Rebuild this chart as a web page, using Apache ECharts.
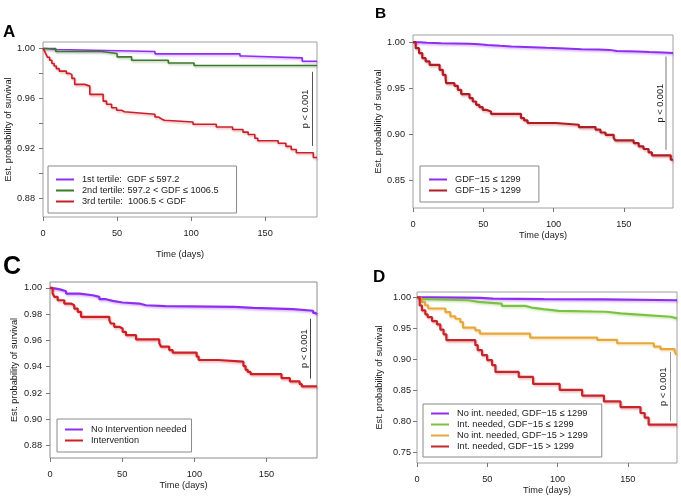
<!DOCTYPE html>
<html>
<head>
<meta charset="utf-8">
<script src="https://cdn.jsdelivr.net/npm/echarts@6/dist/echarts.min.js"></script>
<style>
  html, body { margin: 0; padding: 0; background: #fff; }
  #main { width: 681px; height: 499px; }
</style>
</head>
<body>
<div id="main"></div>
<script>
// Kaplan-Meier curves: [day, est. survival]
const aTertile1 = [[0, 1], [2, 0.9992], [9, 0.9976], [75.6, 0.9957], [133, 0.994], [136, 0.9925], [175, 0.9898], [185, 0.9898]]
const aTertile2 = [[0, 1], [8.6, 0.9976], [39.5, 0.996], [50, 0.9933], [59.8, 0.9906], [84.6, 0.9884], [102, 0.9864], [185, 0.9864]]
const aTertile3 = [[0, 1], [1, 0.998], [2, 0.9955], [3, 0.993], [4.5, 0.9905], [6, 0.988], [7.5, 0.986], [9, 0.9838],
  [11, 0.9818], [15.8, 0.98], [18, 0.979], [19.5, 0.976], [21.4, 0.9712], [28.2, 0.9698], [31.6, 0.9632],
  [40.6, 0.9578], [42.9, 0.9552], [46.3, 0.9525], [49.7, 0.9504], [53, 0.9493], [55, 0.9485], [63.2, 0.9472],
  [75.6, 0.945], [78, 0.9435], [80, 0.9424], [82, 0.941], [101.3, 0.9392], [117, 0.937], [128, 0.935],
  [135, 0.9329], [138.5, 0.931], [143, 0.928], [145, 0.926], [158.8, 0.924], [164, 0.9215], [167.6, 0.919],
  [171, 0.9163], [182.5, 0.9125], [185, 0.9125]]

const bLow = [[0, 1], [5, 0.9994], [10, 0.9989], [20, 0.9984], [40, 0.9978], [47, 0.997], [53, 0.996], [62, 0.9952],
  [70, 0.9946], [85, 0.994], [95, 0.9935], [104, 0.9924], [120, 0.992], [132, 0.9916], [140, 0.9905], [145, 0.9898],
  [160, 0.9892], [168, 0.9887], [178, 0.9882], [185, 0.9882]]
const bHigh = [[0, 1], [1.9, 0.9935], [4.3, 0.988], [6.6, 0.9826], [9, 0.979], [11.8, 0.9753], [18.9, 0.9699],
  [21.2, 0.9645], [23.2, 0.9598], [23.6, 0.9554], [29.5, 0.9525], [31.9, 0.9481], [34.3, 0.9435], [40.2, 0.9391],
  [42.5, 0.9354], [44.9, 0.9318], [47.2, 0.9293], [49.6, 0.9264], [52, 0.9246], [55.5, 0.922], [76.8, 0.9174],
  [79.1, 0.9148], [81.5, 0.912], [101.6, 0.9101], [118, 0.9076], [129.9, 0.9047], [133.4, 0.9017], [137, 0.8992],
  [142.8, 0.8956], [144, 0.893], [157, 0.8902], [160.6, 0.8865], [164, 0.8837], [167.6, 0.88], [170, 0.8768],
  [183.4, 0.872], [185, 0.872]]

const cNoInt = [[0, 1], [0.7, 0.9995], [4.2, 0.9987], [7.6, 0.9975], [11.1, 0.9957], [20.3, 0.9944], [29.6, 0.9932],
  [34.2, 0.9914], [38.8, 0.9901], [43.4, 0.9889], [50.3, 0.9881], [61.9, 0.9868], [66.5, 0.9861], [80, 0.9855],
  [128, 0.9848], [140.8, 0.9838], [168.5, 0.9826], [182.3, 0.981], [184, 0.9797], [185, 0.9797]]
const cInt = [[0, 1], [1.8, 0.9957], [3, 0.9932], [5.3, 0.9906], [9.9, 0.9881], [14.5, 0.9868], [16.8, 0.9843],
  [19.2, 0.9818], [21.5, 0.978], [41.1, 0.9754], [42.2, 0.9729], [44.5, 0.9704], [48, 0.9691], [50.3, 0.9666],
  [52.6, 0.9641], [59.6, 0.9608], [75.7, 0.9578], [76.9, 0.9553], [82.6, 0.9527], [85, 0.9508], [101.6, 0.9477],
  [103, 0.9451], [116.6, 0.9439], [134, 0.9405], [135.5, 0.9376], [137, 0.936], [139, 0.9343], [160.4, 0.9313],
  [166.2, 0.9288], [173, 0.9267], [174.5, 0.925], [185, 0.925]]

const dNoIntLow = [[0, 1], [10, 0.9995], [33, 0.999], [45, 0.998], [54, 0.997], [90, 0.9965], [133, 0.9952], [185, 0.9952]]
const dIntLow = [[0, 1], [1, 0.9975], [2.1, 0.9952], [36.5, 0.9926], [43.7, 0.9899], [60.3, 0.9862], [77, 0.9835],
  [81.6, 0.9809], [90, 0.9782], [101, 0.9767], [134.5, 0.974], [145, 0.9713], [163, 0.9687], [180.5, 0.966], [185, 0.966]]
const dNoIntHigh = [[0, 1], [0.9, 0.9979], [3.3, 0.9926], [5.7, 0.9872], [8, 0.982], [20.2, 0.976], [23.7, 0.9692],
  [27.3, 0.9655], [30.8, 0.9601], [32.7, 0.9512], [41.5, 0.9469], [44.7, 0.9416], [80.5, 0.9352], [128.2, 0.9314],
  [142.4, 0.9261], [168.5, 0.9208], [173.3, 0.9165], [183.3, 0.913], [184.5, 0.9075], [185, 0.9075]]
const dIntHigh = [[0, 1], [1.9, 0.9868], [3.5, 0.9788], [5.9, 0.9724], [7.6, 0.968], [10.7, 0.9617], [14.2, 0.9564],
  [16.6, 0.948], [18.9, 0.9405], [20.9, 0.931], [41.5, 0.923], [43.2, 0.915], [46.3, 0.907], [49.9, 0.899],
  [53.4, 0.891], [55.8, 0.88], [72.4, 0.872], [82.6, 0.8607], [101.5, 0.8511], [117.5, 0.842], [133, 0.8325],
  [144.8, 0.8235], [159, 0.8139], [162, 0.8064], [164.8, 0.7953], [185, 0.7953]]

// tick values
const xTicks = [0, 50, 100, 150]
const aYTicks = [0.88, 0.90, 0.92, 0.94, 0.96, 0.98, 1.00]
const aYLabels = [0.88, 0.92, 0.96, 1.00]
const bYTicks = [0.85, 0.90, 0.95, 1.00]
const cYTicks = [0.88, 0.90, 0.92, 0.94, 0.96, 0.98, 1.00]
const dYTicks = [0.75, 0.80, 0.85, 0.90, 0.95, 1.00]

// p-value bracket per panel: [day, lower, upper]
const aPLine = [181.6, 0.9218, 0.9813]
const bPLine = [179.5, 0.883, 0.9843]
const cPLine = [180, 0.931, 0.9765]
const dPLine = [179.9, 0.8005, 0.9122]

const FONT = 'Liberation Sans, Arial, Helvetica, sans-serif'
const TXT = '#1a1a1a'
const FS = 9.2

function xAxis (gi, nameGap) {
  return {
    type: 'value',
    gridIndex: gi,
    min: 0,
    max: 185,
    name: 'Time (days)',
    nameLocation: 'middle',
    nameGap: nameGap,
    nameTextStyle: { fontSize: FS, color: TXT },
    axisLine: { show: false },
    axisTick: { show: true, length: 4, lineStyle: { color: '#777' }, customValues: xTicks },
    axisLabel: { fontSize: FS, color: TXT, margin: 12, customValues: xTicks },
    splitLine: { show: false }
  }
}

function yAxis (gi, min, max, ticks, labels, nameGap, margin) {
  return {
    type: 'value',
    gridIndex: gi,
    min: min,
    max: max,
    name: 'Est. probability of survival',
    nameLocation: 'middle',
    nameGap: nameGap,
    nameTextStyle: { fontSize: FS, color: TXT },
    axisLine: { show: false },
    axisTick: { show: true, length: 4, lineStyle: { color: '#777' }, customValues: ticks },
    axisLabel: {
      fontSize: FS,
      color: TXT,
      margin: margin,
      customValues: labels,
      formatter: function (v) { return v.toFixed(2) }
    },
    splitLine: { show: false }
  }
}

function fade (hex, a) {
  const n = parseInt(hex.slice(1), 16)
  return 'rgba(' + (n >> 16) + ',' + ((n >> 8) & 255) + ',' + (n & 255) + ',' + a + ')'
}

function curve (gi, name, data, color, width) {
  return {
    type: 'line',
    name: name,
    xAxisIndex: gi,
    yAxisIndex: gi,
    data: data,
    step: 'end',
    symbol: 'none',
    showSymbol: false,
    animation: false,
    itemStyle: { color: color },
    lineStyle: {
      color: color,
      width: width,
      shadowColor: fade(color, 0.35),
      shadowBlur: 2,
      shadowOffsetX: 1,
      shadowOffsetY: 1.5
    }
  }
}

function pBracket (p, color, width, distance) {
  return {
    symbol: 'none',
    silent: true,
    animation: false,
    lineStyle: { color: color, width: width, type: 'solid', shadowBlur: 0 },
    label: { show: true, position: 'middle', formatter: 'p < 0.001', fontSize: FS, color: TXT, distance: distance },
    data: [[{ coord: [p[0], p[1]] }, { coord: [p[0], p[2]] }]]
  }
}

function legend (names, left, top, padding) {
  return {
    data: names,
    orient: 'vertical',
    left: left,
    top: top,
    padding: padding,
    icon: 'rect',
    itemWidth: 18,
    itemHeight: 2,
    itemGap: 0,
    selectedMode: false,
    borderColor: '#8a8a8a',
    borderWidth: 1,
    backgroundColor: '#fff',
    textStyle: { fontSize: FS, color: TXT, lineHeight: 11, padding: [0, 0, 0, 3] }
  }
}

const aNames = ['1st tertile:  GDF \u2264 597.2', '2nd tertile: 597.2 < GDF \u2264 1006.5', '3rd tertile:  1006.5 < GDF']
const bNames = ['GDF\u221215 \u2264 1299', 'GDF\u221215 > 1299']
const cNames = ['No Intervention needed', 'Intervention']
const dNames = ['No int. needed, GDF\u221215 \u2264 1299', 'Int. needed, GDF\u221215 \u2264 1299',
  'No int. needed, GDF\u221215 > 1299', 'Int. needed, GDF\u221215 > 1299']

const PURPLE = '#8e2ef0'

const seriesA3 = curve(0, aNames[2], aTertile3, '#c8202a', 1.6)
seriesA3.markLine = pBracket(aPLine, '#555555', 1, 2)
const seriesB2 = curve(1, bNames[1], bHigh, '#b01c24', 2.2)
seriesB2.markLine = pBracket(bPLine, '#bbbbbb', 2, 0)
const seriesC2 = curve(2, cNames[1], cInt, '#cc1f26', 2.2)
seriesC2.markLine = pBracket(cPLine, '#444444', 1, 1)
const seriesD4 = curve(3, dNames[3], dIntHigh, '#c3262b', 2.2)
seriesD4.markLine = pBracket(dPLine, '#999999', 1, 2)

const option = {
  backgroundColor: '#fff',
  animation: false,
  textStyle: { fontFamily: FONT },
  grid: [
    { left: 43, top: 42, width: 274, height: 175, show: true, borderColor: '#a0a0a0', borderWidth: 1, backgroundColor: 'transparent' },
    { left: 413, top: 35, width: 260, height: 173, show: true, borderColor: '#a0a0a0', borderWidth: 1, backgroundColor: 'transparent' },
    { left: 50, top: 282, width: 267, height: 176, show: true, borderColor: '#8c8c8c', borderWidth: 1, backgroundColor: 'transparent' },
    { left: 417, top: 292, width: 260, height: 171, show: true, borderColor: '#a0a0a0', borderWidth: 1, backgroundColor: 'transparent' }
  ],
  xAxis: [xAxis(0, 33), xAxis(1, 23), xAxis(2, 23), xAxis(3, 23)],
  yAxis: [
    yAxis(0, 0.8648, 1.0052, aYTicks, aYLabels, 23, 8),
    yAxis(1, 0.8195, 1.0078, bYTicks, bYTicks, 23, 8),
    yAxis(2, 0.8705, 1.0045, cYTicks, cYTicks, 31, 8),
    yAxis(3, 0.7335, 1.0085, dYTicks, dYTicks, 33, 6)
  ],
  legend: [
    legend(aNames, 48, 166, [8, 18, 6, 8]),
    legend(bNames, 420, 166, [8, 18, 6, 9]),
    legend(cNames, 57, 419, [5, 5, 6, 8]),
    legend(dNames, 423, 404, [4, 14, 5, 8])
  ],
  graphic: [
    { type: 'text', left: 3, top: 24, style: { text: 'A', font: 'bold 17px ' + FONT, fill: '#000' } },
    { type: 'text', left: 375, top: 6, style: { text: 'B', font: 'bold 15.5px ' + FONT, fill: '#000' } },
    { type: 'text', left: 3, top: 255, style: { text: 'C', font: 'bold 25px ' + FONT, fill: '#000' } },
    { type: 'text', left: 373, top: 269, style: { text: 'D', font: 'bold 17px ' + FONT, fill: '#000' } }
  ],
  series: [
    curve(0, aNames[0], aTertile1, PURPLE, 1.6),
    curve(0, aNames[1], aTertile2, '#3b7a26', 1.6),
    seriesA3,
    curve(1, bNames[0], bLow, PURPLE, 2),
    seriesB2,
    curve(2, cNames[0], cNoInt, PURPLE, 2.2),
    seriesC2,
    curve(3, dNames[0], dNoIntLow, PURPLE, 2.2),
    curve(3, dNames[1], dIntLow, '#7cc242', 2.2),
    curve(3, dNames[2], dNoIntHigh, '#e6a83c', 2.2),
    seriesD4
  ]
}

const chart = echarts.init(document.getElementById('main'))
chart.setOption(option)
window.addEventListener('resize', function () { chart.resize() })
</script>
</body>
</html>
